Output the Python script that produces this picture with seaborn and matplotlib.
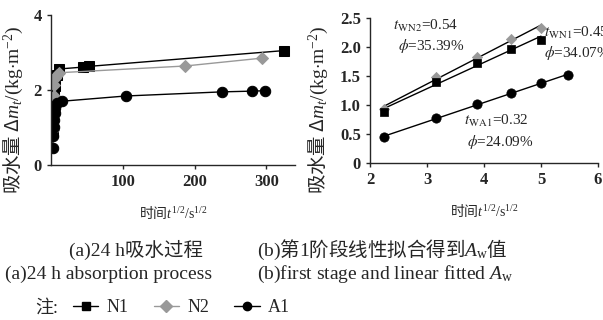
import numpy as np
import pandas as pd
import matplotlib
matplotlib.use("Agg")
import matplotlib.pyplot as plt
import seaborn as sns
from matplotlib.lines import Line2D

sns.set_style("ticks")
plt.rcParams['font.family'] = ['Liberation Serif', 'Noto Sans CJK SC']
plt.rcParams['mathtext.fontset'] = 'custom'
plt.rcParams['mathtext.rm'] = 'Liberation Serif'
plt.rcParams['mathtext.it'] = 'Liberation Serif:italic'
plt.rcParams['mathtext.bf'] = 'Liberation Serif:bold'
plt.rcParams['axes.linewidth'] = 1.0
plt.rcParams['xtick.major.size'] = 3
plt.rcParams['ytick.major.size'] = 3

CJK = 'Noto Sans CJK SC'

# (a) full 24 h absorption, x = sqrt(t)
n1_x = [2.24, 3.16, 3.87, 4.47, 5.0, 7.75, 10.95, 44, 53, 324]
n1_y = [0.88, 1.40, 1.73, 1.97, 2.12, 2.40, 2.56, 2.61, 2.63, 3.05]
n2_x = [2.24, 3.16, 3.87, 4.47, 5.0, 7.75, 10.95, 187, 294]
n2_y = [0.93, 1.49, 1.83, 2.13, 2.33, 2.40, 2.46, 2.64, 2.85]
a1_x = [2.24, 3.16, 3.87, 4.47, 5.0, 5.48, 7.75, 15, 104, 238, 280, 298]
a1_y = [0.45, 0.77, 1.01, 1.20, 1.38, 1.52, 1.65, 1.70, 1.84, 1.95, 1.97, 1.98]

# (b) first stage
b_n1_x = [2.24, 3.16, 3.87, 4.47, 5.0]
b_n1_y = [0.88, 1.40, 1.73, 1.97, 2.12]
b_n2_x = [2.24, 3.16, 3.87, 4.47, 5.0]
b_n2_y = [0.93, 1.49, 1.83, 2.13, 2.33]
b_a1_x = [2.24, 3.16, 3.87, 4.47, 5.0, 5.48]
b_a1_y = [0.45, 0.77, 1.01, 1.20, 1.38, 1.52]

styles = {
    'N1': dict(color='black', marker='s'),
    'N2': dict(color='#999999', marker='D'),
    'A1': dict(color='black', marker='o'),
}
msize = {'s': 7, 'D': 6, 'o': 7.5}

fig = plt.figure(figsize=(6.03, 3.2), dpi=100)
ax1 = fig.add_axes([51/603, 1-165/320, 244/603, 150/320])
ax2 = fig.add_axes([370/603, 1-163/320, 228/603, 145/320])

ylab = '吸水量 Δ$\\mathit{m}_{\\mathit{t}}\\mathrm{/(kg{\\cdot}m^{-2})}$'
xlab = '时间$\\mathit{t}^{\\mathrm{1/2}}\\mathrm{/s}^{\\mathrm{1/2}}$'

# panel a
for name, xs, ys in [('N1', n1_x, n1_y), ('N2', n2_x, n2_y), ('A1', a1_x, a1_y)]:
    st = styles[name]
    df = pd.DataFrame({'x': xs, 'y': ys})
    sns.lineplot(data=df, x='x', y='y', ax=ax1, color=st['color'], lw=1.0,
                 marker=st['marker'], markersize=msize[st['marker']],
                 markeredgecolor=st['color'], sort=False, estimator=None)
ax1.set_xlim(0, 340)
ax1.set_ylim(0, 4)
ax1.set_xticks([100, 200, 300])
ax1.set_yticks([0, 2, 4])

# panel b
for name, xs, ys in [('N2', b_n2_x, b_n2_y), ('N1', b_n1_x, b_n1_y), ('A1', b_a1_x, b_a1_y)]:
    st = styles[name]
    df = pd.DataFrame({'x': xs, 'y': ys})
    k, b = np.polyfit(xs, ys, 1)
    df['fit'] = k * df['x'] + b
    sns.lineplot(data=df, x='x', y='fit', ax=ax2, color='black', lw=1.0)
    sns.scatterplot(data=df, x='x', y='y', ax=ax2, color=st['color'],
                    marker=st['marker'], s=(msize[st['marker']] - 0.8)**2,
                    edgecolor=st['color'], linewidth=0.5, zorder=3)
ax2.set_xlim(2, 6)
ax2.set_ylim(0, 2.5)
ax2.set_xticks([2, 3, 4, 5, 6])
ax2.set_yticks([0, 0.5, 1.0, 1.5, 2.0, 2.5])
ax2.set_yticklabels(['0', '0.5', '1.0', '1.5', '2.0', '2.5'])

for ax, lx in ((ax1, -0.105), (ax2, -0.175)):
    ax.set_xlabel(xlab, fontsize=10, fontfamily=CJK, labelpad=10)
    ax.set_ylabel(ylab, fontsize=14, fontfamily=CJK)
    ax.yaxis.set_label_coords(lx, 0.37)
    sns.despine(ax=ax)
    ax.tick_params(labelsize=12, width=1.0)
    for lab in ax.get_xticklabels() + ax.get_yticklabels():
        lab.set_fontweight('bold')

ann = dict(fontsize=11, math_fontfamily='stix', clip_on=False)
ax2.text(2.4, 2.3, '$t_{\\rm WN2}$=0.54', **ann)
ax2.text(2.5, 1.95, '$\\phi$=35.39%', **ann)
ax2.text(5.05, 2.17, '$t_{\\rm WN1}$=0.45', **ann)
ax2.text(5.05, 1.83, '$\\phi$=34.07%', **ann)
ax2.text(3.65, 0.65, '$t_{\\rm WA1}$=0.32', **ann)
ax2.text(3.7, 0.3, '$\\phi$=24.09%', **ann)

# captions
fig.text(136/603, 1-250/320, '(a)24 h吸水过程', fontsize=14, ha='center', va='center')
fig.text(257/603, 1-250/320, '$\\mathrm{(b)}$第$\\mathrm{1}$阶段线性拟合得到$\\mathit{A}_{\\mathrm{w}}$值',
         fontsize=14, fontfamily=CJK, ha='left', va='center')
fig.text(5/603, 1-274/320, '(a)24 h absorption process', fontsize=14, ha='left', va='center')
fig.text(257/603, 1-274/320, '(b)first stage and linear fitted $\\mathit{A}_{\\mathrm{w}}$',
         fontsize=14, ha='left', va='center')
fig.text(35/603, 1-308/320, '注:', fontsize=13, ha='left', va='center')

handles = [Line2D([], [], color=('black' if n != 'N2' else '#999999'), lw=1.0,
                  marker=styles[n]['marker'], markersize=6,
                  markeredgecolor=styles[n]['color'], markerfacecolor=styles[n]['color'])
           for n in ['N1', 'N2', 'A1']]
fig.legend(handles, ['N1', 'N2', 'A1'], ncol=3, loc='center left',
           bbox_to_anchor=(64/603, 1-308/320), frameon=False, fontsize=13,
           handlelength=1.4, handletextpad=0.45, columnspacing=1.4, borderpad=0)

fig.savefig('out.png', dpi=100)
